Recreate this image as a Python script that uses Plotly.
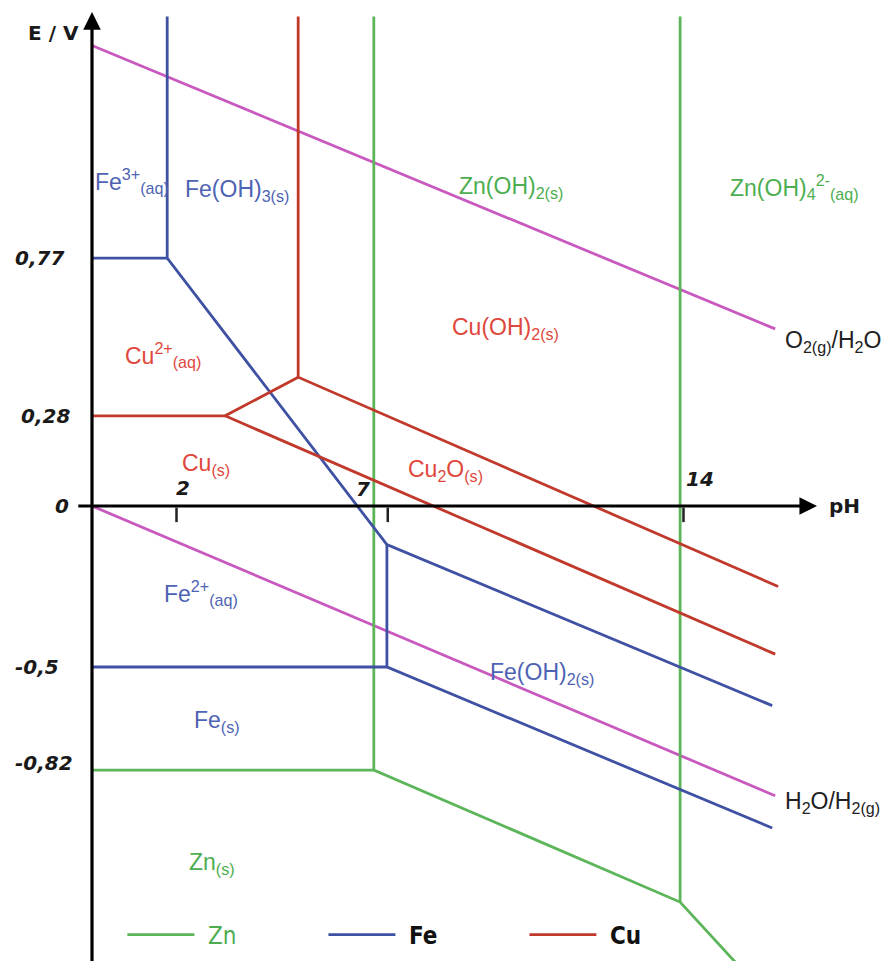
import plotly.graph_objects as go

# ---------------- data (pH, E/V) ----------------
# water stability lines
water_ph = [0, 16.17]
o2_h2o_e = [1.43, 0.55]
h2o_h2_e = [0.0, -0.90]

# Zn boundaries (None separates segments)
zn_ph = [6.67, 6.67, 13.92, 15.60, None, 0, 6.67, None, 13.92, 13.92]
zn_e = [1.52, -0.82, -1.23, -1.47, None, -0.82, -0.82, None, 1.52, -1.23]

# Fe boundaries
fe_ph = [1.78, 1.78, 6.98, 16.10, None, 0, 1.78, None, 6.98, 6.98, None, 0, 6.98, 16.10]
fe_e = [1.52, 0.77, -0.12, -0.62, None, 0.77, 0.77, None, -0.12, -0.50, None, -0.50, -0.50, -1.00]

# Cu boundaries
cu_ph = [4.88, 4.88, 16.24, None, 0, 3.15, 4.88, None, 3.15, 16.17]
cu_e = [1.52, 0.40, -0.25, None, 0.28, 0.28, 0.40, None, 0.28, -0.46]

# axis ticks
ph_ticks = [2, 7, 14]
ph_tick_labels = ["2", "7", "14"]
e_ticks = [0.77, 0.28, 0, -0.5, -0.82]
e_tick_labels = ["0,77", "0,28", "0", "-0,5", "-0,82"]

# ---------------- styles ----------------
ZN = "#5db55a"
FE = "#3f51a3"
CU = "#c0392b"
MAG = "#c85abf"
ZN_T = "#4cae50"
FE_T = "#4d63b3"
CU_T = "#e0473c"
GAP = "\u2009\u2009"

fig = go.Figure()

fig.add_trace(go.Scatter(x=water_ph, y=o2_h2o_e, mode="lines", line=dict(color=MAG, width=2.8),
                         showlegend=False, hoverinfo="skip"))
fig.add_trace(go.Scatter(x=water_ph, y=h2o_h2_e, mode="lines", line=dict(color=MAG, width=2.8),
                         showlegend=False, hoverinfo="skip"))
fig.add_trace(go.Scatter(x=zn_ph, y=zn_e, mode="lines", line=dict(color=ZN, width=2.8),
                         name=GAP + "<span style='color:#4cae50'>Zn</span>", hoverinfo="skip"))
fig.add_trace(go.Scatter(x=fe_ph, y=fe_e, mode="lines", line=dict(color=FE, width=2.8),
                         name=GAP + "<b>Fe</b>", hoverinfo="skip"))
fig.add_trace(go.Scatter(x=cu_ph, y=cu_e, mode="lines", line=dict(color=CU, width=2.8),
                         name=GAP + "<b>Cu</b>", hoverinfo="skip"))

# tick marks on pH axis
tx, ty = [], []
for t in ph_ticks:
    tx += [t, t, None]
    ty += [-0.005, -0.05, None]
fig.add_trace(go.Scatter(x=tx, y=ty, mode="lines", line=dict(color="#222", width=2.5),
                         showlegend=False, hoverinfo="skip"))

ann = []
# axes with arrows
ann.append(dict(x=17.16, y=0, ax=-0.36, ay=0, xref="x", yref="y", axref="x", ayref="y",
                showarrow=True, arrowhead=2, arrowsize=1.1, arrowwidth=3.2, arrowcolor="black", text=""))
ann.append(dict(x=0, y=1.534, ax=0, ay=-1.45, xref="x", yref="y", axref="x", ayref="y",
                showarrow=True, arrowhead=2, arrowsize=1.1, arrowwidth=3.2, arrowcolor="black", text=""))

tickfont = dict(family="DejaVu Sans", size=20, color="#1a1a1a", weight="bold", style="italic")
# E tick labels (centre x offset in px from the E axis)
e_shift = [-53, -47, -30, -55, -48]
e_yshift = [0, 0, 0, 0, 7]
for v, lab, xs, ys in zip(e_ticks, e_tick_labels, e_shift, e_yshift):
    ann.append(dict(x=0, y=v, xref="x", yref="y", text=lab, showarrow=False, xshift=xs, yshift=ys,
                    font=tickfont, xanchor="center", yanchor="middle"))
# pH tick labels
p_xs = [6, -25, 16]
p_ys = [18, 17, 27]
for v, lab, xs, ys in zip(ph_ticks, ph_tick_labels, p_xs, p_ys):
    ann.append(dict(x=v, y=0, xref="x", yref="y", text=lab, showarrow=False, xshift=xs, yshift=ys,
                    font=tickfont, xanchor="center", yanchor="middle"))

axfont = dict(family="DejaVu Sans", size=20, color="#1a1a1a", weight="bold")
ann.append(dict(x=-0.92, y=1.47, xref="x", yref="y", text="E / V", showarrow=False, font=axfont))
ann.append(dict(x=17.82, y=0, xref="x", yref="y", text="pH", showarrow=False, font=axfont))

LF = "Liberation Sans, Arial, sans-serif"
labels = [
    ("Fe<sup>3+</sup><sub>(aq)</sub>", 0.03, 1.01, FE_T),
    ("Fe(OH)<sub>3(s)</sub>", 2.15, 0.98, FE_T),
    ("Zn(OH)<sub>2(s)</sub>", 8.64, 0.99, ZN_T),
    ("Zn(OH)<sub>4</sub><sup>2-</sup><sub>(aq)</sub>", 15.05, 0.99, ZN_T),
    ("Cu(OH)<sub>2(s)</sub>", 8.47, 0.55, CU_T),
    ("O<sub>2(g)</sub>/H<sub>2</sub>O", 16.35, 0.51, "#222"),
    ("Cu<sup>2+</sup><sub>(aq)</sub>", 0.73, 0.47, CU_T),
    ("Cu<sub>(s)</sub>", 2.08, 0.13, CU_T),
    ("Cu<sub>2</sub>O<sub>(s)</sub>", 7.43, 0.11, CU_T),
    ("Fe<sup>2+</sup><sub>(aq)</sub>", 1.66, -0.27, FE_T),
    ("Fe(OH)<sub>2(s)</sub>", 9.37, -0.52, FE_T),
    ("Fe<sub>(s)</sub>", 2.37, -0.67, FE_T),
    ("Zn<sub>(s)</sub>", 2.25, -1.11, ZN_T),
    ("H<sub>2</sub>O/H<sub>2(g)</sub>", 16.35, -0.92, "#222"),
]
for t, x, y, c in labels:
    ann.append(dict(x=x, y=y, xref="x", yref="y", text=t, showarrow=False, xanchor="left",
                    yanchor="middle", font=dict(family=LF, size=23, color=c)))

fig.update_layout(
    width=887, height=961,
    margin=dict(l=0, r=0, t=0, b=0),
    paper_bgcolor="white", plot_bgcolor="white",
    xaxis=dict(range=[-2.1775, 18.8166], visible=False, fixedrange=True),
    yaxis=dict(range=[-1.41304, 1.57143], visible=False, fixedrange=True),
    annotations=ann,
    showlegend=True,
    legend=dict(orientation="h", x=0.138, y=0.027, xanchor="left", yanchor="middle",
                entrywidth=119, entrywidthmode="pixels", itemwidth=67,
                font=dict(family="Liberation Sans Narrow, DejaVu Sans Condensed, sans-serif", size=24, color="#111"),
                bgcolor="rgba(0,0,0,0)", borderwidth=0),
)

fig.write_html("out.html")
